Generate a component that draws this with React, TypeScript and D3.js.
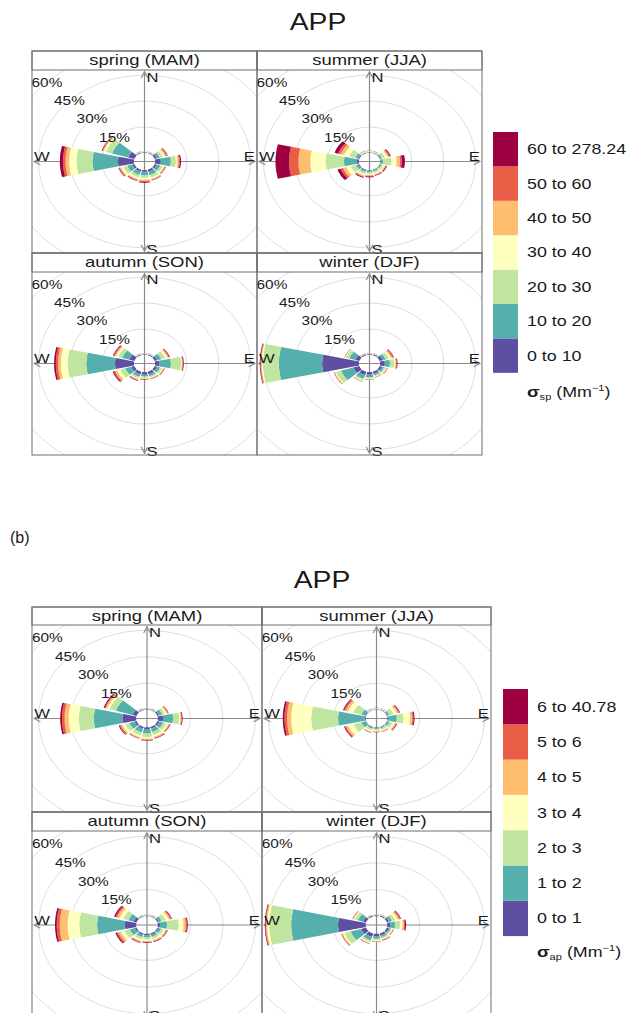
import React from 'react';
import * as d3 from 'd3';

// ---------------- DATA ----------------
const SECTORS = [0, 30, 60, 90, 120, 150, 180, 210, 240, 270, 300, 330];
const RING_PCTS = [15, 30, 45, 60];
const SEASONS = ['spring (MAM)', 'summer (JJA)', 'autumn (SON)', 'winter (DJF)'];
const SP_LABELS = ['0 to 10', '10 to 20', '20 to 30', '30 to 40', '40 to 50', '50 to 60', '60 to 278.24'];
const AP_LABELS = ['0 to 1', '1 to 2', '2 to 3', '3 to 4', '4 to 5', '5 to 6', '6 to 40.78'];

// frequency (%) per sector (rows follow SECTORS) and per concentration bin (columns follow labels)
const spSpring = [
  [0.3, 0.2, 0.1, 0.1, 0.05, 0.05, 0.05],
  [0.3, 0.3, 0.2, 0.1, 0.1, 0.05, 0.05],
  [1, 1.5, 1.5, 1, 0.7, 0.4, 0.3],
  [2.7, 4.7, 2.4, 0.8, 0.5, 0.6, 0.5],
  [1, 1.8, 1.2, 0.6, 0.4, 0.3, 0.2],
  [1.2, 2, 1.5, 0.8, 0.5, 0.3, 0.2],
  [1, 2, 1.5, 1, 0.8, 0.6, 0.4],
  [1, 2, 1.5, 1, 0.6, 0.4, 0.3],
  [1, 2.5, 2, 1, 0.6, 0.4, 0.3],
  [7.5, 12, 7.5, 3.5, 1.7, 1.2, 1.5],
  [3, 8, 3, 1, 0.5, 0.3, 0.3],
  [0.4, 0.3, 0.2, 0.1, 0.1, 0.05, 0.05],
];
const spSummer = [
  [0.2, 0.3, 0.3, 0.2, 0.1, 0.1, 0.1],
  [0.2, 0.3, 0.3, 0.2, 0.1, 0.1, 0.1],
  [0.3, 0.8, 1.5, 1.2, 0.7, 0.5, 0.5],
  [0.3, 1.1, 4, 2.4, 1.6, 0.8, 1.5],
  [0.3, 0.6, 1, 0.7, 0.4, 0.3, 0.4],
  [0.3, 0.7, 1, 0.7, 0.4, 0.3, 0.3],
  [0.3, 0.8, 1, 0.7, 0.5, 0.4, 0.5],
  [0.4, 1, 1.2, 0.8, 0.6, 0.4, 0.5],
  [0.5, 1.2, 2.5, 2.2, 1.6, 1.2, 1.6],
  [1, 6, 8.7, 7.2, 5.6, 4.4, 6.4],
  [0.5, 1.5, 3, 2.5, 1.7, 1.3, 1.7],
  [0.2, 0.3, 0.4, 0.3, 0.2, 0.1, 0.1],
];
const spAutumn = [
  [0.3, 0.2, 0.1, 0.1, 0.05, 0.05, 0.05],
  [0.4, 0.3, 0.2, 0.1, 0.1, 0.05, 0.05],
  [1.2, 2, 2, 1, 0.6, 0.4, 0.3],
  [1.9, 5.5, 4.8, 0.4, 0.3, 0.3, 0.3],
  [1.2, 1.5, 1, 0.5, 0.3, 0.2, 0.2],
  [1.5, 1.2, 0.8, 0.4, 0.3, 0.2, 0.2],
  [1.5, 1, 0.8, 0.4, 0.3, 0.2, 0.2],
  [1.5, 1.5, 1, 0.5, 0.4, 0.3, 0.3],
  [1.5, 3, 2.5, 1.5, 1, 0.7, 0.5],
  [8.9, 13.5, 8.8, 3.2, 1.3, 1.1, 0.8],
  [2.5, 3.5, 2, 1, 0.6, 0.5, 0.4],
  [0.4, 0.3, 0.2, 0.1, 0.1, 0.05, 0.05],
];
const spWinter = [
  [0.4, 0.2, 0.1, 0.1, 0.05, 0.05, 0.05],
  [0.5, 0.3, 0.2, 0.1, 0.1, 0.05, 0.05],
  [1.5, 1.5, 1.5, 1, 0.7, 0.5, 0.3],
  [2.2, 2.4, 2, 0.6, 0.3, 0.4, 0.3],
  [1.2, 1, 0.8, 0.4, 0.3, 0.2, 0.1],
  [1.2, 1, 0.6, 0.3, 0.2, 0.1, 0.1],
  [1.5, 1.5, 0.8, 0.4, 0.2, 0.1, 0.1],
  [2, 2.2, 1, 0.4, 0.2, 0.1, 0.1],
  [3, 6, 2.5, 0.5, 0.3, 0.2, 0.1],
  [17.3, 20.4, 7.5, 0.6, 0.3, 0.3, 0.3],
  [2, 3, 1.5, 0.4, 0.2, 0.1, 0.1],
  [0.5, 0.3, 0.2, 0.1, 0.05, 0.05, 0.05],
];
const apSpring = [
  [0.3, 0.2, 0.1, 0.1, 0.05, 0.05, 0.05],
  [0.3, 0.3, 0.2, 0.1, 0.1, 0.05, 0.05],
  [0.8, 1.5, 1.3, 0.8, 0.5, 0.3, 0.2],
  [2.4, 4.6, 2.8, 0.6, 0.4, 0.3, 0.3],
  [1, 1.8, 1.5, 0.9, 0.5, 0.4, 0.2],
  [1, 2, 1.8, 1, 0.6, 0.3, 0.3],
  [1, 2.5, 2, 1, 0.5, 0.3, 0.3],
  [1, 2.2, 1.8, 1, 0.5, 0.3, 0.2],
  [1, 2.5, 2, 1.3, 0.8, 0.6, 0.4],
  [6.3, 13.2, 6.9, 4.7, 1.9, 1.2, 0.8],
  [2, 8, 3, 1.2, 0.7, 0.5, 0.5],
  [0.4, 0.3, 0.2, 0.1, 0.1, 0.05, 0.05],
];
const apSummer = [
  [0.2, 0.3, 0.3, 0.2, 0.1, 0.05, 0.05],
  [0.2, 0.3, 0.3, 0.2, 0.1, 0.05, 0.05],
  [0.3, 1, 2, 1.5, 0.8, 0.5, 0.3],
  [0.3, 4.1, 3.1, 3.1, 1, 0.5, 0.5],
  [0.3, 1, 1.5, 1, 0.6, 0.3, 0.3],
  [0.3, 0.6, 0.9, 0.6, 0.3, 0.2, 0.1],
  [0.3, 0.6, 0.8, 0.5, 0.3, 0.2, 0.1],
  [0.3, 0.8, 1, 0.7, 0.4, 0.2, 0.1],
  [0.3, 2, 3.8, 2.5, 1.1, 0.6, 0.4],
  [0.5, 12.3, 12.4, 9.3, 1.9, 1.2, 0.8],
  [0.3, 2, 4, 2.5, 1.2, 0.7, 0.5],
  [0.2, 0.3, 0.3, 0.2, 0.1, 0.05, 0.05],
];
const apAutumn = [
  [0.3, 0.2, 0.1, 0.1, 0.05, 0.05, 0.05],
  [0.3, 0.3, 0.2, 0.1, 0.1, 0.05, 0.05],
  [0.6, 1.5, 2, 1.3, 0.8, 0.5, 0.3],
  [1, 3.2, 5.4, 2.3, 1, 0.5, 0.4],
  [0.6, 1.2, 1.3, 0.8, 0.5, 0.3, 0.3],
  [0.8, 1.2, 1.2, 0.8, 0.5, 0.3, 0.3],
  [0.8, 1.2, 1.2, 0.8, 0.5, 0.3, 0.3],
  [0.8, 1.3, 1.3, 0.9, 0.6, 0.4, 0.3],
  [0.8, 2.5, 2.5, 1.8, 1.2, 0.8, 0.6],
  [5.2, 12.8, 8.2, 5.4, 3.6, 1.4, 0.8],
  [1.5, 2.5, 2.5, 1.7, 1.2, 0.8, 0.7],
  [0.3, 0.3, 0.2, 0.1, 0.1, 0.05, 0.05],
];
const apWinter = [
  [0.4, 0.2, 0.1, 0.1, 0.05, 0.05, 0.05],
  [0.5, 0.3, 0.2, 0.1, 0.1, 0.05, 0.05],
  [1, 1.5, 1.5, 1.2, 0.8, 0.6, 0.3],
  [1.3, 2.3, 2.3, 1.2, 0.6, 0.5, 0.5],
  [1, 0.8, 0.6, 0.4, 0.3, 0.2, 0.1],
  [1.2, 1, 0.8, 0.5, 0.3, 0.2, 0.2],
  [1.5, 1.2, 0.8, 0.5, 0.3, 0.1, 0.1],
  [2, 2, 1, 0.5, 0.3, 0.2, 0.1],
  [2.5, 5, 3, 0.8, 0.4, 0.3, 0.1],
  [12.8, 21.7, 10.1, 1, 0.5, 0.3, 0.3],
  [1.5, 2.5, 1.5, 0.5, 0.3, 0.2, 0.1],
  [0.5, 0.3, 0.2, 0.1, 0.05, 0.05, 0.05],
];

// ---------------- STYLE / LAYOUT ----------------
const COLORS = d3.quantize(
  d3.piecewise(d3.interpolateRgb, [...d3.schemeSpectral[11]].reverse()),
  7
);
const FONT = 'Liberation Sans, Arial, Helvetica, sans-serif';
const SX = 1.23; // horizontal stretch of the original figure
const DEG = Math.PI / 180;
const U = 53; // half extent of each polar panel (% units)
const HOLE = 5;
const AXIS_R = 52;
const HALF = 13;
const TXT = '#1a1a1a';

const FIGS = [
  {
    title: 'APP', titleX: 318, titleY: 30,
    cols: [32, 257, 482],
    rows: [[51, 70, 253], [253, 272, 455]],
    data: [spSpring, spSummer, spAutumn, spWinter],
    labels: SP_LABELS, sub: 'sp',
    leg: { x: 493, y: 132, w: 25, h: 34.4, lx: 527, sy: 397 },
  },
  {
    title: 'APP', titleX: 322, titleY: 588,
    cols: [32, 262, 491],
    rows: [[607, 625, 812], [812, 831, 1019]],
    data: [apSpring, apSummer, apAutumn, apWinter],
    labels: AP_LABELS, sub: 'ap',
    leg: { x: 503, y: 689, w: 25, h: 35.3, lx: 537, sy: 957 },
  },
];

function SText({ x, y, size, anchor = 'start', children, weight = 'normal' }: any) {
  return (
    <text
      transform={`translate(${x},${y}) scale(${SX},1)`}
      textAnchor={anchor}
      fontSize={size}
      fontFamily={FONT}
      fontWeight={weight}
      fill={TXT}
    >
      {children}
    </text>
  );
}

function Panel({ x0, x1, st, pt, pb, label, data, id }: any) {
  const xs = d3.scaleLinear().domain([-U, U]).range([x0, x1]);
  const ys = d3.scaleLinear().domain([-U, U]).range([pb, pt]);
  const P = (r: number, deg: number): [number, number] => [
    xs(r * Math.sin(deg * DEG)),
    ys(r * Math.cos(deg * DEG)),
  ];
  const cx = xs(0);
  const cy = ys(0);
  const line = d3.line();

  const segs: any[] = [];
  data.forEach((bins: number[], si: number) => {
    const th = SECTORS[si];
    const cum = d3.cumsum(bins);
    bins.forEach((v, bi) => {
      if (v <= 0) return;
      const r0 = HOLE + (bi === 0 ? 0 : cum[bi - 1]);
      const r1 = HOLE + cum[bi];
      const pts: [number, number][] = [];
      const n = 14;
      for (let i = 0; i <= n; i++) pts.push(P(r1, th - HALF + (2 * HALF * i) / n));
      for (let i = n; i >= 0; i--) pts.push(P(r0, th - HALF + (2 * HALF * i) / n));
      segs.push(<path key={`${si}-${bi}`} d={line(pts) + 'Z'} fill={COLORS[bi]} stroke="none" />);
    });
  });

  const arrow = (deg: number) => {
    const [tx, ty] = P(AXIS_R, deg);
    const dx = tx - cx, dy = ty - cy;
    const len = Math.hypot(dx, dy);
    const ux = dx / len, uy = dy / len;
    const L = 7, a = 28 * DEG;
    const h1: [number, number] = [tx - L * (ux * Math.cos(a) - uy * Math.sin(a)), ty - L * (uy * Math.cos(a) + ux * Math.sin(a))];
    const h2: [number, number] = [tx - L * (ux * Math.cos(a) + uy * Math.sin(a)), ty - L * (uy * Math.cos(a) - ux * Math.sin(a))];
    return <path key={deg} d={line([h1, [tx, ty], h2]) as string} fill="none" stroke="#8a8a8a" strokeWidth={1.2} />;
  };

  const [nx, ny] = P(AXIS_R, 0);
  const [sx, sy] = P(AXIS_R, 180);
  const [wx] = P(AXIS_R, 270);
  const [ex] = P(AXIS_R, 90);

  return (
    <g>
      <defs>
        <clipPath id={id}>
          <rect x={x0} y={pt} width={x1 - x0} height={pb - pt} />
        </clipPath>
      </defs>
      <g clipPath={`url(#${id})`}>
        {RING_PCTS.map((p) => (
          <ellipse key={p} cx={cx} cy={cy} rx={xs(p + HOLE) - cx} ry={cy - ys(p + HOLE)} fill="none" stroke="#dedede" strokeWidth={1} />
        ))}
        <line x1={cx} y1={ny} x2={cx} y2={sy} stroke="#8a8a8a" strokeWidth={1.2} />
        <line x1={wx} y1={cy} x2={ex} y2={cy} stroke="#8a8a8a" strokeWidth={1.2} />
        {[0, 90, 180, 270].map(arrow)}
        {segs}
      </g>
      {RING_PCTS.map((p) => {
        const [lx, ly] = P(p + HOLE, 315);
        return (
          <SText key={p} x={lx} y={ly + 4.5} size={12.5} anchor="middle">{`${p}%`}</SText>
        );
      })}
      <SText x={cx + 2} y={ny + 10} size={13.5}>N</SText>
      <SText x={sx + 2} y={sy + 2.5} size={13.5}>S</SText>
      <SText x={wx} y={cy - 0.5} size={13.5}>W</SText>
      <SText x={ex} y={cy - 0.5} size={13.5} anchor="end">E</SText>
      <rect x={x0} y={st} width={x1 - x0} height={pt - st} fill="none" stroke="#6e6e6e" strokeWidth={1} />
      <rect x={x0} y={st} width={x1 - x0} height={pb - st} fill="none" stroke="#6e6e6e" strokeWidth={1} />
      <SText x={(x0 + x1) / 2} y={st + 14} size={15} anchor="middle">{label}</SText>
    </g>
  );
}

function Legend({ leg, labels, sub }: any) {
  const ys = d3.scaleBand().domain(d3.range(7).map(String).reverse()).range([leg.y, leg.y + leg.h * 7]).padding(0);
  return (
    <g>
      {labels.map((lab: string, i: number) => (
        <g key={lab}>
          <rect x={leg.x} y={ys(String(i))} width={leg.w} height={ys.bandwidth()} fill={COLORS[i]} />
          <SText x={leg.lx} y={(ys(String(i)) as number) + ys.bandwidth() / 2 + 5} size={14.5}>{lab}</SText>
        </g>
      ))}
      <text transform={`translate(${leg.lx},${leg.sy}) scale(${SX},1)`} fontFamily={FONT} fill={TXT} fontSize={14.5}>
        <tspan fontWeight="bold" fontSize={15}>σ</tspan>
        <tspan fontSize={9} dy={3}>{sub}</tspan>
        <tspan dy={-3}> (Mm</tspan>
        <tspan fontSize={9} dy={-6}>−1</tspan>
        <tspan dy={6}>)</tspan>
      </text>
    </g>
  );
}

export default function App() {
  return (
    <svg width={633} height={1013} style={{ position: 'absolute', left: 0, top: 0, background: '#fff' }}>
      <rect x={0} y={0} width={633} height={1013} fill="#fff" />
      {FIGS.map((f, fi) => (
        <g key={fi}>
          <SText x={f.titleX} y={f.titleY} size={23} anchor="middle">{f.title}</SText>
          {f.data.map((d, k) => {
            const col = k % 2;
            const row = Math.floor(k / 2);
            const [st, pt, pb] = f.rows[row];
            return (
              <Panel
                key={k}
                id={`clip-${fi}-${k}`}
                x0={f.cols[col]}
                x1={f.cols[col + 1]}
                st={st}
                pt={pt}
                pb={pb}
                label={SEASONS[k]}
                data={d}
              />
            );
          })}
          <Legend leg={f.leg} labels={f.labels} sub={f.sub} />
        </g>
      ))}
      <text x={10} y={543} fontFamily="Liberation Sans Narrow, Liberation Sans, sans-serif" fontSize={16} fill={TXT}>(b)</text>
    </svg>
  );
}
